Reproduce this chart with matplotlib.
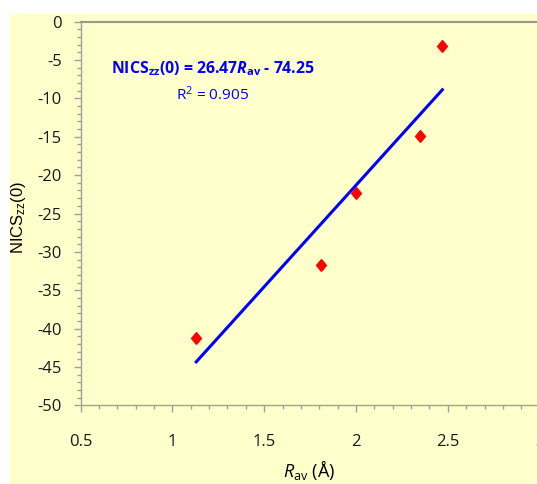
import matplotlib
matplotlib.use('Agg')
import matplotlib.pyplot as plt
import matplotlib.patches as mpatches
from matplotlib.ticker import MultipleLocator
import numpy as np

plt.rcParams['font.family'] = 'Open Sans'
plt.rcParams['mathtext.fontset'] = 'custom'
plt.rcParams['mathtext.rm'] = 'Open Sans'
plt.rcParams['mathtext.it'] = 'Open Sans:italic'
plt.rcParams['mathtext.bf'] = 'Open Sans:bold'
plt.rcParams['mathtext.bfit'] = 'Open Sans:bold:italic'

# data
r_av = [1.13, 1.81, 2.00, 2.35, 2.47]
nics_zz = [-41.2, -31.7, -22.3, -14.9, -3.2]
slope = 26.47
intercept = -74.25

W, H = 537, 484
fig = plt.figure(figsize=(W / 100, H / 100), dpi=100)
fig.patch.set_facecolor('white')
# yellow chart area, with a white strip at top/left like the original
fig.patches.append(mpatches.Rectangle((10 / W, 0), 1, 1 - 14 / H,
                                      transform=fig.transFigure,
                                      facecolor='#FFFFCC', edgecolor='none', zorder=-10))

# plot area runs past the right edge (the original is cropped there)
ax = fig.add_axes([80.5 / W, (H - 405.3) / H, (539.7 - 80.5) / W, (405.3 - 21.7) / H])
ax.set_facecolor('#FFFFCC')

# diamond slightly taller than wide
diamond = [(0, -1.2), (1, 0), (0, 1.2), (-1, 0), (0, -1.2)]

xfit = np.array([min(r_av), max(r_av)])
ax.plot(xfit, slope * xfit + intercept, color='#0000FF', lw=2.2, zorder=2)
ax.plot(r_av, nics_zz, linestyle='none', marker=diamond, color='#FF0000',
        markersize=8.5, zorder=3)

ax.set_xlim(0.5, 3)
ax.set_ylim(-50, 0)
ax.xaxis.set_major_locator(MultipleLocator(0.5))
ax.xaxis.set_minor_locator(MultipleLocator(0.1))
ax.yaxis.set_major_locator(MultipleLocator(5))
ax.yaxis.set_minor_locator(MultipleLocator(1))
ax.xaxis.set_major_formatter(lambda v, p: f'{v:g}')
ax.yaxis.set_major_formatter(lambda v, p: f'{v:g}')

ax.tick_params(which='both', direction='out', color='#A0A0A0', labelsize=12,
               labelcolor='#1A1A1A')
ax.tick_params(which='major', length=5, width=1)
ax.tick_params(which='minor', length=3, width=1)
ax.tick_params(axis='x', pad=15.5)
ax.tick_params(axis='y', pad=8.5)

for s in ['left', 'bottom']:
    ax.spines[s].set_color('#A0A0A0')
    ax.spines[s].set_linewidth(1)
ax.spines['top'].set_color('#999988')
ax.spines['top'].set_linewidth(1.5)
ax.spines['right'].set_visible(False)

ax.set_ylabel(r'NICS$_{\mathregular{zz}}$(0)', family='Liberation Sans', fontsize=12,
              va='center')
ax.yaxis.set_label_coords(19 / W, (H - 217) / H, transform=fig.transFigure)
ax.set_xlabel(r'$\mathit{R}_{\mathregular{av}}$ (Å)', fontsize=13, va='baseline')
ax.xaxis.set_label_coords(309 / W, (H - 477) / H, transform=fig.transFigure)

eq = fig.text(110.7 / W, (H - 73.3) / H,
              r'NICS$_{\mathbf{zz}}$(0) = 26.47$\mathbfit{R}_{\mathbf{av}}$ - 74.25',
              color='#0000FF', fontsize=12, fontweight='bold', ha='left', va='baseline')
r2 = fig.text(176 / W, (H - 100) / H, r'R$^{\mathregular{2}}$ = 0.905',
              color='#0000FF', fontsize=11.5, ha='left', va='baseline')

# size the two annotation lines to the widths they take in the original
renderer = fig.canvas.get_renderer()
for txt, target in [(eq, 204), (r2, 73)]:
    for _ in range(2):
        w = txt.get_window_extent(renderer).width
        txt.set_fontsize(txt.get_fontsize() * target / w)

fig.savefig('out.png', dpi=100, facecolor=fig.get_facecolor())
